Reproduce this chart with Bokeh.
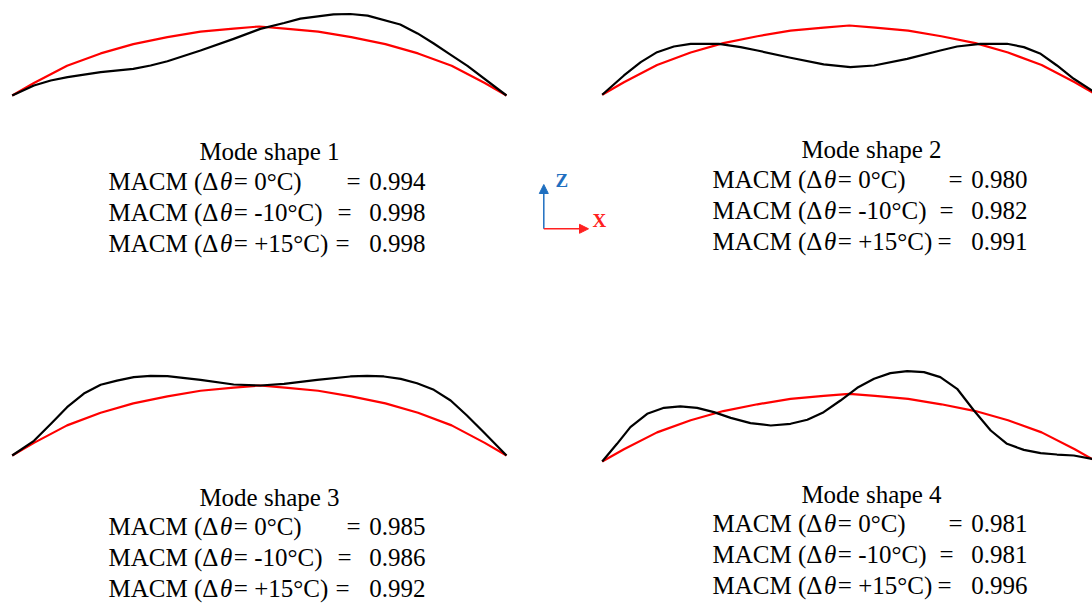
from bokeh.plotting import figure
from bokeh.models import Arrow, NormalHead, Range1d
from bokeh.embed import file_html
from bokeh.resources import INLINE
from bokeh.core.properties import value

# ---------------- data (normalised span position, normalised height) ----------------
arch_x = [0, 0.044, 0.111, 0.179, 0.245, 0.314, 0.381, 0.448, 0.5,
          0.552, 0.619, 0.686, 0.755, 0.821, 0.889, 0.956, 1.0]
arch_z = [0, 0.18, 0.43, 0.61, 0.745, 0.845, 0.925, 0.97, 1.0,
          0.97, 0.925, 0.845, 0.745, 0.61, 0.43, 0.18, 0]

mode1_x = [0, 0.044, 0.078, 0.112, 0.179, 0.245, 0.280, 0.314, 0.381, 0.448, 0.502,
           0.55, 0.583, 0.650, 0.684, 0.719, 0.785, 0.82, 0.852, 0.885, 0.921, 1.0]
mode1_z = [0, 0.145, 0.217, 0.266, 0.338, 0.386, 0.435, 0.497, 0.652, 0.821, 0.966,
           1.05, 1.114, 1.176, 1.181, 1.157, 1.029, 0.90, 0.757, 0.60, 0.429, 0]

mode2_x = [0, 0.044, 0.078, 0.111, 0.145, 0.179, 0.212, 0.236, 0.280, 0.314, 0.381, 0.448,
           0.502, 0.550, 0.617, 0.684, 0.718, 0.765, 0.819, 0.853, 0.887, 0.920, 0.954, 0.991, 1.0]
mode2_z = [0, 0.279, 0.471, 0.615, 0.697, 0.736, 0.736, 0.736, 0.688, 0.639, 0.534, 0.438,
           0.399, 0.423, 0.519, 0.639, 0.697, 0.736, 0.736, 0.688, 0.591, 0.423, 0.231, 0.0625, 0]

mode3_x = [0, 0.044, 0.078, 0.111, 0.145, 0.179, 0.212, 0.246, 0.280, 0.314, 0.381, 0.448,
           0.502, 0.550, 0.617, 0.684, 0.718, 0.752, 0.786, 0.819, 0.853, 0.887, 0.920, 0.954, 1.0]
mode3_z = [0, 0.21, 0.45, 0.69, 0.885, 1.01, 1.07, 1.12, 1.138, 1.133, 1.081, 1.014,
           1.0, 1.024, 1.081, 1.129, 1.138, 1.129, 1.095, 1.033, 0.938, 0.786, 0.571, 0.333, 0]

mode4_x = [0, 0.030, 0.057, 0.091, 0.125, 0.158, 0.192, 0.226, 0.260, 0.300, 0.341, 0.381,
           0.415, 0.448, 0.482, 0.516, 0.550, 0.583, 0.617, 0.651, 0.684, 0.718, 0.752, 0.786,
           0.819, 0.853, 0.887, 0.920, 0.954, 0.991, 1.0]
mode4_z = [0, 0.261, 0.507, 0.704, 0.793, 0.813, 0.793, 0.729, 0.645, 0.567, 0.532, 0.557,
           0.616, 0.729, 0.901, 1.089, 1.222, 1.305, 1.335, 1.320, 1.246, 1.074, 0.754, 0.458,
           0.261, 0.172, 0.123, 0.103, 0.089, 0.039, 0]

titles = ["Mode shape 1", "Mode shape 2", "Mode shape 3", "Mode shape 4"]
temp_cases = ["0°C", "-10°C", "+15°C"]
macm_values = [["0.994", "0.998", "0.998"],
               ["0.980", "0.982", "0.991"],
               ["0.985", "0.986", "0.992"],
               ["0.981", "0.981", "0.996"]]

modes = [(mode1_x, mode1_z), (mode2_x, mode2_z), (mode3_x, mode3_z), (mode4_x, mode4_z)]

# ---------------- layout (pixels) ----------------
W, H = 1092, 603
TEXT_SHIFT = -9
panels = [
    dict(x0=11.7, span=494.3, base=95.0, height=69.0, tl=108, tr=425, tc=269, bl=[160, 190, 221, 252]),
    dict(x0=601.7, span=494.3, base=94.3, height=69.3, tl=712, tr=1027, tc=871, bl=[158, 188, 219, 250]),
    dict(x0=11.7, span=494.3, base=455.0, height=70.0, tl=108, tr=425, tc=269, bl=[506, 535, 566, 597]),
    dict(x0=601.7, span=494.3, base=461.0, height=67.7, tl=712, tr=1027, tc=871, bl=[503, 532, 563, 594]),
]
eq_offsets = [-79, -88, -90]   # where the "=" sign of each row starts, relative to the row's right edge

FONT = "Liberation Serif"
FS = 25

p = figure(width=W, height=H, x_range=Range1d(0, W), y_range=Range1d(H, 0),
           x_axis_type=None, y_axis_type=None, output_backend="svg",
           toolbar_location=None, min_border=0)
p.grid.visible = False
p.outline_line_color = None
p.background_fill_color = "white"
p.border_fill_color = "white"

# em widths (Times metrics) used to compose the italic theta
pre_em = 0.889 * 2 + 0.722 + 0.667 + 0.25 + 0.333 + 0.612   # "MACM (Δ"
theta_gap = 0.10
theta_em = 0.52


def txt(xs, ys, texts, align="left", style="normal", size=FS, color="black"):
    p.text(x=xs, y=[y + TEXT_SHIFT for y in ys], text=texts, text_font=value(FONT),
           text_font_size=f"{size}px", text_align=align, text_baseline="alphabetic",
           text_font_style=style, text_color=color)


for pan, (mx, mz), title, vals in zip(panels, modes, titles, macm_values):
    ax = [pan["x0"] + v * pan["span"] for v in arch_x]
    az = [pan["base"] - v * pan["height"] for v in arch_z]
    p.line(ax, az, line_color="#ff0000", line_width=2.2, line_join="round")
    bx = [pan["x0"] + v * pan["span"] for v in mx]
    bz = [pan["base"] - v * pan["height"] for v in mz]
    p.line(bx, bz, line_color="#000000", line_width=2.2, line_join="round")

    txt([pan["tc"]], [pan["bl"][0]], [title], align="center")
    ys = pan["bl"][1:]
    xl = pan["tl"]
    txt([xl] * 3, ys, ["MACM (Δ"] * 3)
    xt = xl + (pre_em + theta_gap) * FS
    txt([xt] * 3, ys, ["θ"] * 3, style="italic")
    xr = xt + (theta_em + 0.03) * FS
    txt([xr] * 3, ys, [f"= {c})" for c in temp_cases])
    txt([pan["tr"] + o for o in eq_offsets], ys, ["="] * 3)
    txt([pan["tr"]] * 3, ys, vals, align="right")

# coordinate system indicator
ox, oy = 543.3, 228.3
BLUE = "#1f6fc0"
RED = "#ff2020"
p.add_layout(Arrow(x_start=ox, y_start=oy, x_end=ox, y_end=184, line_color=BLUE, line_width=1.5,
                   end=NormalHead(size=9, fill_color=BLUE, line_color=BLUE)))
p.add_layout(Arrow(x_start=ox, y_start=oy, x_end=588, y_end=oy, line_color=RED, line_width=1.5,
                   end=NormalHead(size=9, fill_color=RED, line_color=RED)))
txt([555], [189], ["Z"], style="bold", size=19, color=BLUE)
txt([592], [229], ["X"], style="bold", size=19, color=RED)

open("out.html", "w").write(file_html(p, INLINE))
